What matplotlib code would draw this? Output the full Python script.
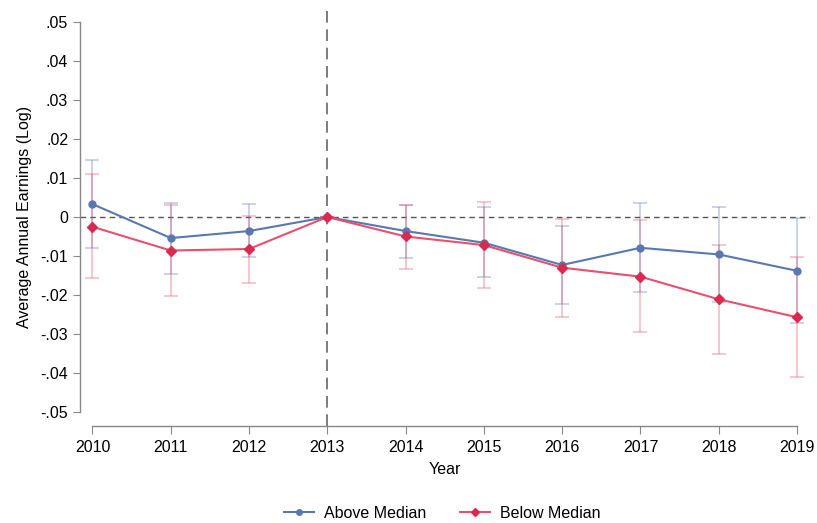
import numpy as np
import matplotlib.pyplot as plt

plt.rcParams['font.family'] = ['Liberation Sans', 'DejaVu Sans']

years = [2010, 2011, 2012, 2013, 2014, 2015, 2016, 2017, 2018, 2019]

above = [0.0033, -0.0054, -0.0036, 0.0, -0.0036, -0.0066, -0.0123, -0.0079, -0.0096, -0.0138]
above_lo = [-0.0080, -0.0146, -0.0103, 0.0, -0.0104, -0.0155, -0.0223, -0.0193, -0.0217, -0.0271]
above_hi = [0.0146, 0.0036, 0.0033, 0.0, 0.0032, 0.0025, -0.0022, 0.0035, 0.0025, -0.0003]

below = [-0.0025, -0.0086, -0.0082, 0.0, -0.0050, -0.0072, -0.0130, -0.0153, -0.0211, -0.0257]
below_lo = [-0.0156, -0.0202, -0.0168, 0.0, -0.0133, -0.0182, -0.0256, -0.0294, -0.0351, -0.0410]
below_hi = [0.0110, 0.0031, 0.0003, 0.0, 0.0032, 0.0038, -0.0006, -0.0008, -0.0071, -0.0102]

yticks = [0.05, 0.04, 0.03, 0.02, 0.01, 0, -0.01, -0.02, -0.03, -0.04, -0.05]
ytick_labels = ['.05', '.04', '.03', '.02', '.01', '0', '-.01', '-.02', '-.03', '-.04', '-.05']

blue = '#5a78b0'
red = '#e8506e'
red_mk = '#d92a52'

fig = plt.figure(figsize=(8.17, 5.23), dpi=100)
ax = fig.add_axes([80 / 817, 1 - 426 / 523, 730 / 817, 418 / 523])

x = np.array(years)
for vals, lo, hi, c in [(above, above_lo, above_hi, blue), (below, below_lo, below_hi, red)]:
    vals = np.array(vals)
    err = [vals - np.array(lo), np.array(hi) - vals]
    ax.errorbar(x, vals, yerr=err, fmt='none', ecolor=c, alpha=0.35,
                elinewidth=1.3, capsize=5, capthick=1.3, zorder=2)

ax.axhline(0, color='#555555', ls=(0, (4, 3)), lw=1, zorder=1)
ax.axvline(2013, color='#666666', ls=(0, (7, 4)), lw=1.2, zorder=1)

ax.plot(x, above, color=blue, lw=1.5, marker='o', ms=5, mfc=blue, mec=blue,
        label='Above Median', zorder=3)
ax.plot(x, below, color=red, lw=1.5, marker='D', ms=5, mfc=red_mk, mec=red_mk,
        label='Below Median', zorder=3)

ax.set_xlim(2010 - 12.5 / 78.28, 2019 + 13 / 78.28)
ax.set_ylim(-0.0536, 0.0536)
ax.set_yticks(yticks)
ax.set_yticklabels(ytick_labels)
ax.set_xticks(years)

for s in ['top', 'right']:
    ax.spines[s].set_visible(False)
ax.spines['left'].set_bounds(-0.05, 0.05)
ax.spines['bottom'].set_bounds(2010, 2019)
for s in ['left', 'bottom']:
    ax.spines[s].set_color('#888888')
    ax.spines[s].set_linewidth(1)
ax.tick_params(axis='both', colors='#888888', labelcolor='black', labelsize=11.5, length=5)
ax.tick_params(axis='x', length=6, pad=4)

ax.set_xlabel('Year', fontsize=11.5, labelpad=5)
ax.set_ylabel('Average Annual Earnings (Log)', fontsize=11.5, labelpad=6)

fig.legend(loc='center', bbox_to_anchor=(442 / 817, 1 - 513 / 523), ncol=2, frameon=False,
           fontsize=11.5, handlelength=1.9, handletextpad=0.6, columnspacing=2.1,
           markerscale=0.8)

fig.savefig('out.png', dpi=100)
